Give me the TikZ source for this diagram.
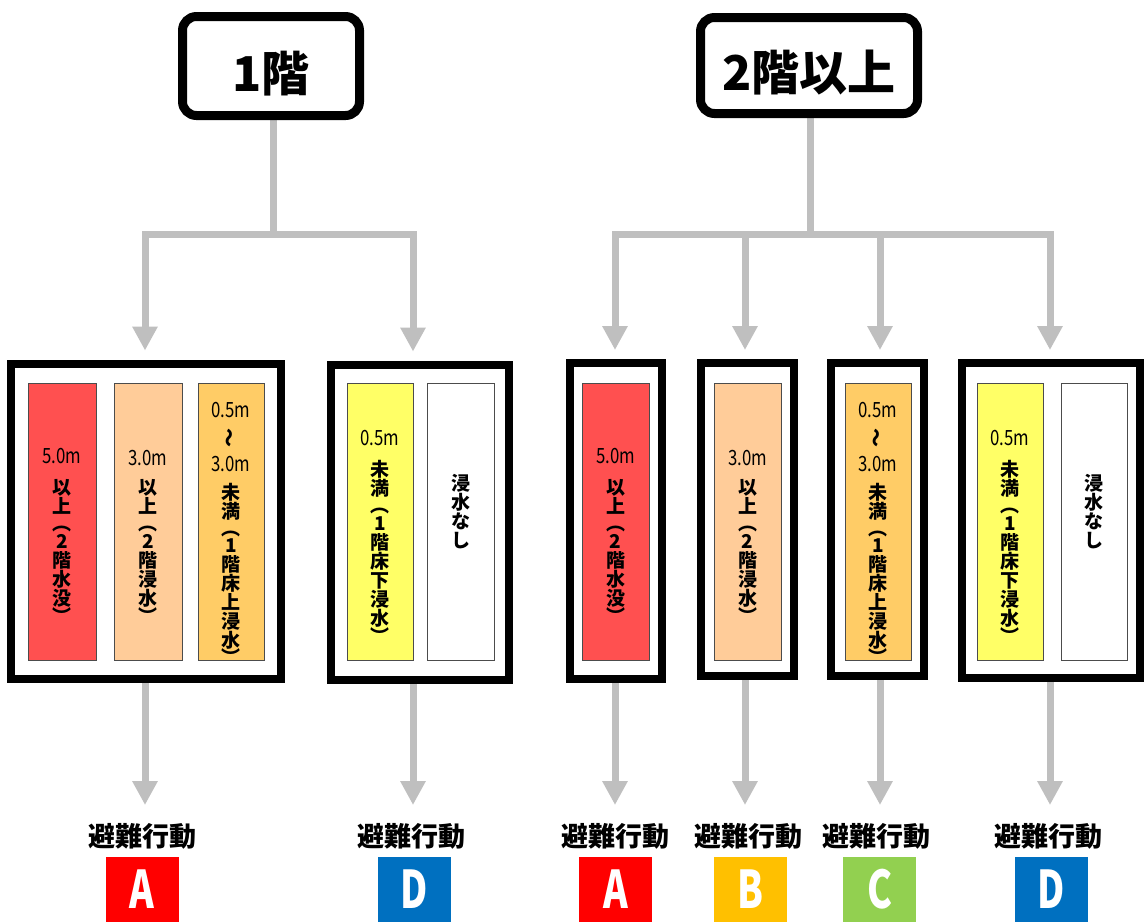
\documentclass[tikz,border=0pt]{standalone}
\usepackage{fontspec}
\setmainfont{Noto Sans CJK JP}
\usetikzlibrary{arrows.meta}
\definecolor{linegray}{HTML}{BFBFBF}
\definecolor{cRed}{HTML}{FF5050}
\definecolor{cPeach}{HTML}{FFCC99}
\definecolor{cOrange}{HTML}{FFCC66}
\definecolor{cYellow}{HTML}{FFFF66}
\definecolor{actA}{HTML}{FF0000}
\definecolor{actB}{HTML}{FFC000}
\definecolor{actC}{HTML}{92D050}
\definecolor{actD}{HTML}{0070C0}
\newcommand\nmb[1]{\scalebox{0.8}[1]{\fontsize{21}{19}\selectfont\mdseries #1}}
\newcommand\wv{\rotatebox[origin=c]{90}{〜}}
\pgfdeclarelayer{bg}
\pgfsetlayers{bg,main}
\begin{document}
\begin{tikzpicture}[x=1pt,y=-1pt,
  title/.style={draw=black, line width=9pt, rounded corners=14pt, fill=white, inner sep=0pt, text height=58pt, text depth=8pt, font=\fontsize{48}{52}\selectfont\bfseries},
  grp/.style={draw=black, line width=8pt, fill=white, inner sep=0pt},
  strip/.style={draw=black!70, line width=0.8pt, minimum width=66pt, minimum height=277pt, inner sep=0pt},
  vtxt/.style={anchor=north, align=center, inner sep=0pt, font=\fontsize{19}{19}\selectfont\bfseries},
  conn/.style={draw=linegray, line width=7pt, line cap=rect},
  arr/.style={draw=linegray, line width=7pt, -{Triangle[width=24pt,length=24pt]}},
  lab/.style={font=\fontsize{27}{27}\selectfont\bfseries, inner sep=0pt},
  act/.style={minimum width=73pt, minimum height=65pt, inner sep=0pt, text=white, font=\fontsize{52}{52}\selectfont\bfseries}
]
\useasboundingbox (0,0) rectangle (1144,922);

% titles
\node[title, minimum width=177pt, minimum height=99pt] (f1) at (271,66) {1階};
\node[title, minimum width=217pt, minimum height=96pt] (f2) at (809,65.5) {2階以上};

% junctions
\coordinate (j1) at (273,234);
\coordinate (j2) at (810,234);
\coordinate (b1) at (145,234);
\coordinate (b2) at (413,234);
\coordinate (b3) at (615,234);
\coordinate (b4) at (745,234);
\coordinate (b5) at (880,234);
\coordinate (b6) at (1050,234);
\coordinate (t1) at (145,805);
\coordinate (t2) at (413,805);
\coordinate (t3) at (615,805);
\coordinate (t4) at (745,805);
\coordinate (t5) at (880,805);
\coordinate (t6) at (1050,805);

% group boxes
\node[grp, minimum width=270pt, minimum height=315pt] (g1) at (146,521.5) {};
\node[grp, minimum width=178pt, minimum height=315pt] (g2) at (420,522.5) {};
\node[grp, minimum width=92pt, minimum height=316pt] (g3) at (616,521) {};
\node[grp, minimum width=93pt, minimum height=313pt] (g4) at (747.5,519.5) {};
\node[grp, minimum width=93pt, minimum height=313pt] (g5) at (877.5,519.5) {};
\node[grp, minimum width=178pt, minimum height=315pt] (g6) at (1051,520.5) {};

% strips
\node[strip, fill=cRed, minimum width=68pt] (s11) at (62,521.5) {};
\node[strip, fill=cPeach, minimum width=68pt] (s12) at (148,521.5) {};
\node[strip, fill=cOrange] (s13) at (231,521.5) {};
\node[strip, fill=cYellow] (s21) at (380,521.5) {};
\node[strip, fill=white, minimum width=67pt] (s22) at (460.5,521.5) {};
\node[strip, fill=cRed, minimum width=67pt] (s31) at (615.5,521.5) {};
\node[strip, fill=cPeach, minimum width=67pt] (s41) at (747.5,521.5) {};
\node[strip, fill=cOrange] (s51) at (878,521.5) {};
\node[strip, fill=cYellow] (s61) at (1010,521.5) {};
\node[strip, fill=white] (s62) at (1094,521.5) {};

% strip texts
\node[vtxt] (x11) at (62,448) {\nmb{5.0m}\\[12pt]以\\上\\[-2pt]︵\\[-1pt]2\\階\\水\\没\\[-1pt]︶};
\node[vtxt] (x12) at (148,450) {\nmb{3.0m}\\[10pt]以\\上\\[-2pt]︵\\[-1pt]2\\階\\浸\\水\\[-1pt]︶};
\node[vtxt] (x13) at (231,402) {\nmb{0.5m}\\[7pt]\wv\\[7pt]\nmb{3.0m}\\[9pt]未\\満\\[-2pt]︵\\[-2pt]1\\階\\床\\上\\浸\\水\\[-2pt]︶};
\node[vtxt] (x21) at (380,430) {\nmb{0.5m}\\[12pt]未\\満\\[-2pt]︵\\[-1pt]1\\階\\床\\下\\浸\\水\\[-1pt]︶};
\node[vtxt] (x22) at (460.5,474) {浸\\水\\な\\し};
\node[vtxt] (x31) at (615.5,448) {\nmb{5.0m}\\[12pt]以\\上\\[-2pt]︵\\[-1pt]2\\階\\水\\没\\[-1pt]︶};
\node[vtxt] (x41) at (747.5,450) {\nmb{3.0m}\\[10pt]以\\上\\[-2pt]︵\\[-1pt]2\\階\\浸\\水\\[-1pt]︶};
\node[vtxt] (x51) at (878,402) {\nmb{0.5m}\\[7pt]\wv\\[7pt]\nmb{3.0m}\\[9pt]未\\満\\[-2pt]︵\\[-2pt]1\\階\\床\\上\\浸\\水\\[-2pt]︶};
\node[vtxt] (x61) at (1010,430) {\nmb{0.5m}\\[12pt]未\\満\\[-2pt]︵\\[-1pt]1\\階\\床\\下\\浸\\水\\[-1pt]︶};
\node[vtxt] (x62) at (1094,474) {浸\\水\\な\\し};

% labels and action boxes
\node[lab] (l1) at (142,836) {避難行動};
\node[lab] (l2) at (411,836) {避難行動};
\node[lab] (l3) at (615,836) {避難行動};
\node[lab] (l4) at (748,836) {避難行動};
\node[lab] (l5) at (876,836) {避難行動};
\node[lab] (l6) at (1048,836) {避難行動};
\node[act, fill=actA] (a1) at (142,889.5) {\scalebox{0.72}[1]{A}};
\node[act, fill=actD] (a2) at (414.5,889.5) {\scalebox{0.72}[1]{D}};
\node[act, fill=actA] (a3) at (615.5,889.5) {\scalebox{0.72}[1]{A}};
\node[act, fill=actB] (a4) at (750.5,889.5) {\scalebox{0.72}[1]{B}};
\node[act, fill=actC] (a5) at (879.5,889.5) {\scalebox{0.72}[1]{C}};
\node[act, fill=actD] (a6) at (1051.5,889.5) {\scalebox{0.72}[1]{D}};

% connectors
\begin{pgfonlayer}{bg}
\fill[white] (0,0) rectangle (1144,922);
\draw[conn] (f1.south -| j1) -- (j1);
\draw[conn] (f2.south -| j2) -- (j2);
\draw[conn] (b1) -- (b2);
\draw[conn] (b3) -- (b6);
\draw[arr, shorten >=9.5pt] (b1) -- (b1 |- g1.north);
\draw[arr, shorten >=9.5pt] (b2) -- (b2 |- g2.north);
\draw[arr, shorten >=9pt] (b3) -- (b3 |- g3.north);
\draw[arr, shorten >=9pt] (b4) -- (b4 |- g4.north);
\draw[arr, shorten >=9pt] (b5) -- (b5 |- g5.north);
\draw[arr, shorten >=9pt] (b6) -- (b6 |- g6.north);
\draw[arr] (g1.south -| t1) -- (t1);
\draw[arr] (g2.south -| t2) -- (t2);
\draw[arr] (g3.south -| t3) -- (t3);
\draw[arr] (g4.south -| t4) -- (t4);
\draw[arr] (g5.south -| t5) -- (t5);
\draw[arr] (g6.south -| t6) -- (t6);
\end{pgfonlayer}
\end{tikzpicture}
\end{document}
